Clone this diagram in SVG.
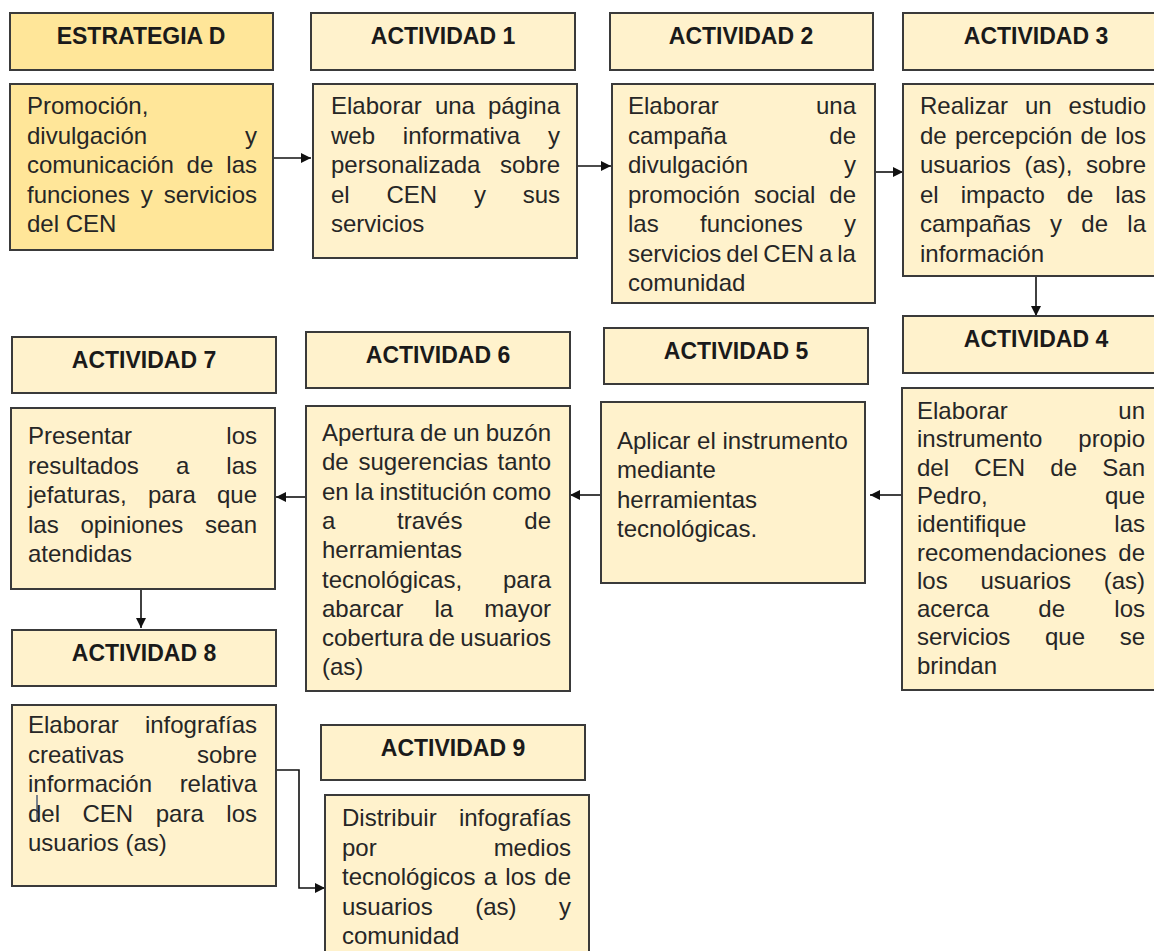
<svg xmlns="http://www.w3.org/2000/svg" width="1154" height="951" viewBox="0 0 1154 951">
<defs>
<style>
.box{fill:#FFF2CC;stroke:#3a3a3a;stroke-width:2}
.sbox{fill:#FFE699;stroke:#3a3a3a;stroke-width:2}
.hd{font-family:"Liberation Sans",Arial,sans-serif;font-weight:bold;font-size:23px;fill:#1a1a1a;text-anchor:middle}
.tx{font-family:"Liberation Sans",Arial,sans-serif;font-size:24px;fill:#262626}
.e{text-anchor:end}
.cn{fill:none;stroke:#111;stroke-width:1.6}
</style>
<marker id="ah" markerUnits="userSpaceOnUse" markerWidth="10" markerHeight="10" refX="10" refY="5" orient="auto">
<path d="M0,0 L10,5 L0,10 z" fill="#111"/>
</marker>
</defs>
<rect width="1154" height="951" fill="#ffffff"/>

<g id="connectors">
<line class="cn" x1="273" y1="158" x2="311" y2="158" marker-end="url(#ah)"/>
<line class="cn" x1="577" y1="166" x2="611" y2="166" marker-end="url(#ah)"/>
<line class="cn" x1="875" y1="172" x2="903" y2="172" marker-end="url(#ah)"/>
<line class="cn" x1="1036" y1="276" x2="1036" y2="316" marker-end="url(#ah)"/>
<line class="cn" x1="902" y1="495" x2="870" y2="495" marker-end="url(#ah)"/>
<line class="cn" x1="601" y1="495" x2="570" y2="495" marker-end="url(#ah)"/>
<line class="cn" x1="306" y1="497" x2="276" y2="497" marker-end="url(#ah)"/>
<line class="cn" x1="141" y1="589" x2="141" y2="628" marker-end="url(#ah)"/>
<polyline class="cn" points="276,770 299,770 299,888 325,888" marker-end="url(#ah)"/>
</g>

<g id="estrategia-d">
<rect class="sbox" x="10" y="13" width="263" height="57"/>
<text class="hd" x="141" y="44">ESTRATEGIA D</text>
<rect class="sbox" x="10" y="84" width="263" height="166"/>
<text class="tx" y="114"><tspan x="27">Promoción,</tspan></text>
<text class="tx" y="143.5"><tspan x="27">divulgación</tspan><tspan x="257" class="e">y</tspan></text>
<text class="tx" y="173"><tspan x="27">comunicación</tspan><tspan x="186.6">de</tspan><tspan x="257" class="e">las</tspan></text>
<text class="tx" y="202.5"><tspan x="27">funciones</tspan><tspan x="140.7">y</tspan><tspan x="257" class="e">servicios</tspan></text>
<text class="tx" y="232"><tspan x="27">del CEN</tspan></text>
</g>

<g id="actividad-1">
<rect class="box" x="311" y="13" width="264" height="57"/>
<text class="hd" x="443" y="44">ACTIVIDAD 1</text>
<rect class="box" x="313" y="84" width="264" height="174"/>
<text class="tx" y="114"><tspan x="331">Elaborar</tspan><tspan x="434.9">una</tspan><tspan x="560" class="e">página</tspan></text>
<text class="tx" y="143.5"><tspan x="331">web</tspan><tspan x="402.8">informativa</tspan><tspan x="560" class="e">y</tspan></text>
<text class="tx" y="173"><tspan x="331">personalizada</tspan><tspan x="560" class="e">sobre</tspan></text>
<text class="tx" y="202.5"><tspan x="331">el</tspan><tspan x="386.5">CEN</tspan><tspan x="474">y</tspan><tspan x="560" class="e">sus</tspan></text>
<text class="tx" y="232"><tspan x="331">servicios</tspan></text>
</g>

<g id="actividad-2">
<rect class="box" x="610" y="13" width="263" height="57"/>
<text class="hd" x="741" y="44">ACTIVIDAD 2</text>
<rect class="box" x="612" y="84" width="263" height="219"/>
<text class="tx" y="114"><tspan x="628">Elaborar</tspan><tspan x="856" class="e">una</tspan></text>
<text class="tx" y="143.5"><tspan x="628">campaña</tspan><tspan x="856" class="e">de</tspan></text>
<text class="tx" y="173"><tspan x="628">divulgación</tspan><tspan x="856" class="e">y</tspan></text>
<text class="tx" y="202.5"><tspan x="628">promoción</tspan><tspan x="754">social</tspan><tspan x="856" class="e">de</tspan></text>
<text class="tx" y="232"><tspan x="628">las</tspan><tspan x="700">funciones</tspan><tspan x="856" class="e">y</tspan></text>
<text class="tx" y="261.5" x="628" word-spacing="-1.7">servicios del CEN a la</text>
<text class="tx" y="291"><tspan x="628">comunidad</tspan></text>
</g>

<g id="actividad-3">
<rect class="box" x="903" y="13" width="260" height="57"/>
<text class="hd" x="1036" y="44">ACTIVIDAD 3</text>
<rect class="box" x="903" y="84" width="260" height="192"/>
<text class="tx" y="114"><tspan x="920">Realizar</tspan><tspan x="1025">un</tspan><tspan x="1146" class="e">estudio</tspan></text>
<text class="tx" y="143.5"><tspan x="920">de</tspan><tspan x="954.9">percepción</tspan><tspan x="1080.5">de</tspan><tspan x="1146" class="e">los</tspan></text>
<text class="tx" y="173"><tspan x="920">usuarios</tspan><tspan x="1024.4">(as),</tspan><tspan x="1146" class="e">sobre</tspan></text>
<text class="tx" y="202.5"><tspan x="920">el</tspan><tspan x="960.7">impacto</tspan><tspan x="1066.7">de</tspan><tspan x="1146" class="e">las</tspan></text>
<text class="tx" y="232"><tspan x="920">campañas</tspan><tspan x="1050">y</tspan><tspan x="1081.3">de</tspan><tspan x="1146" class="e">la</tspan></text>
<text class="tx" y="261.5"><tspan x="920">información</tspan></text>
</g>

<g id="actividad-4">
<rect class="box" x="903" y="316" width="260" height="57"/>
<text class="hd" x="1036" y="347">ACTIVIDAD 4</text>
<rect class="box" x="902" y="388" width="261" height="302"/>
<text class="tx" y="419"><tspan x="917">Elaborar</tspan><tspan x="1145" class="e">un</tspan></text>
<text class="tx" y="447.3"><tspan x="917">instrumento</tspan><tspan x="1145" class="e">propio</tspan></text>
<text class="tx" y="475.6"><tspan x="917">del</tspan><tspan x="974.3">CEN</tspan><tspan x="1050.3">de</tspan><tspan x="1145" class="e">San</tspan></text>
<text class="tx" y="503.9"><tspan x="917">Pedro,</tspan><tspan x="1145" class="e">que</tspan></text>
<text class="tx" y="532.2"><tspan x="917">identifique</tspan><tspan x="1145" class="e">las</tspan></text>
<text class="tx" y="560.5"><tspan x="917">recomendaciones</tspan><tspan x="1145" class="e">de</tspan></text>
<text class="tx" y="588.8"><tspan x="917">los</tspan><tspan x="980.4">usuarios</tspan><tspan x="1145" class="e">(as)</tspan></text>
<text class="tx" y="617.1"><tspan x="917">acerca</tspan><tspan x="1038.3">de</tspan><tspan x="1145" class="e">los</tspan></text>
<text class="tx" y="645.4"><tspan x="917">servicios</tspan><tspan x="1045">que</tspan><tspan x="1145" class="e">se</tspan></text>
<text class="tx" y="673.7"><tspan x="917">brindan</tspan></text>
</g>

<g id="actividad-5">
<rect class="box" x="604" y="328" width="264" height="56"/>
<text class="hd" x="736" y="359">ACTIVIDAD 5</text>
<rect class="box" x="601" y="402" width="264" height="181"/>
<text class="tx" x="617" y="449">Aplicar el instrumento</text>
<text class="tx" x="617" y="478">mediante</text>
<text class="tx" x="617" y="507.5">herramientas</text>
<text class="tx" x="617" y="537">tecnológicas.</text>
</g>

<g id="actividad-6">
<rect class="box" x="306" y="332" width="264" height="56"/>
<text class="hd" x="438" y="363">ACTIVIDAD 6</text>
<rect class="box" x="306" y="406" width="264" height="285"/>
<text class="tx" y="441" x="322" word-spacing="-0.6">Apertura de un buzón</text>
<text class="tx" y="470.3"><tspan x="322">de</tspan><tspan x="358.5">sugerencias</tspan><tspan x="551" class="e">tanto</tspan></text>
<text class="tx" y="499.6"><tspan x="322">en</tspan><tspan x="354.8">la</tspan><tspan x="379.6">institución</tspan><tspan x="551" class="e">como</tspan></text>
<text class="tx" y="528.9"><tspan x="322">a</tspan><tspan x="397.1">través</tspan><tspan x="551" class="e">de</tspan></text>
<text class="tx" y="558.2"><tspan x="322">herramientas</tspan></text>
<text class="tx" y="587.5"><tspan x="322">tecnológicas,</tspan><tspan x="551" class="e">para</tspan></text>
<text class="tx" y="616.8"><tspan x="322">abarcar</tspan><tspan x="434.5">la</tspan><tspan x="551" class="e">mayor</tspan></text>
<text class="tx" y="646.1"><tspan x="322">cobertura</tspan><tspan x="428.5">de</tspan><tspan x="551" class="e">usuarios</tspan></text>
<text class="tx" y="675.4"><tspan x="322">(as)</tspan></text>
</g>

<g id="actividad-7">
<rect class="box" x="12" y="337" width="264" height="56"/>
<text class="hd" x="144" y="368">ACTIVIDAD 7</text>
<rect class="box" x="11" y="408" width="264" height="181"/>
<text class="tx" y="444"><tspan x="28">Presentar</tspan><tspan x="257" class="e">los</tspan></text>
<text class="tx" y="473.5"><tspan x="28">resultados</tspan><tspan x="175.9">a</tspan><tspan x="257" class="e">las</tspan></text>
<text class="tx" y="503"><tspan x="28">jefaturas,</tspan><tspan x="147.9">para</tspan><tspan x="257" class="e">que</tspan></text>
<text class="tx" y="532.5"><tspan x="28">las</tspan><tspan x="80.5">opiniones</tspan><tspan x="257" class="e">sean</tspan></text>
<text class="tx" y="562"><tspan x="28">atendidas</tspan></text>
</g>

<g id="actividad-8">
<rect class="box" x="12" y="630" width="264" height="56"/>
<text class="hd" x="144" y="661">ACTIVIDAD 8</text>
<rect class="box" x="12" y="705" width="264" height="181"/>
<text class="tx" y="733"><tspan x="28">Elaborar</tspan><tspan x="257" class="e">infografías</tspan></text>
<text class="tx" y="762.5"><tspan x="28">creativas</tspan><tspan x="257" class="e">sobre</tspan></text>
<text class="tx" y="792"><tspan x="28">información</tspan><tspan x="257" class="e">relativa</tspan></text>
<text class="tx" y="821.5"><tspan x="28">del</tspan><tspan x="82.5">CEN</tspan><tspan x="155.7">para</tspan><tspan x="257" class="e">los</tspan></text>
<text class="tx" y="851"><tspan x="28">usuarios (as)</tspan></text>
<line x1="37" y1="795" x2="37" y2="820" stroke="#1f3864" stroke-width="1.2"/>
</g>

<g id="actividad-9">
<rect class="box" x="321" y="725" width="264" height="55"/>
<text class="hd" x="453" y="756">ACTIVIDAD 9</text>
<rect class="box" x="325" y="795" width="264" height="170"/>
<text class="tx" y="826"><tspan x="342">Distribuir</tspan><tspan x="571" class="e">infografías</tspan></text>
<text class="tx" y="855.5"><tspan x="342">por</tspan><tspan x="571" class="e">medios</tspan></text>
<text class="tx" y="885"><tspan x="342">tecnológicos</tspan><tspan x="483.7">a</tspan><tspan x="505.3">los</tspan><tspan x="571" class="e">de</tspan></text>
<text class="tx" y="914.5"><tspan x="342">usuarios</tspan><tspan x="475.2">(as)</tspan><tspan x="571" class="e">y</tspan></text>
<text class="tx" y="944"><tspan x="342">comunidad</tspan></text>
</g>
</svg>
